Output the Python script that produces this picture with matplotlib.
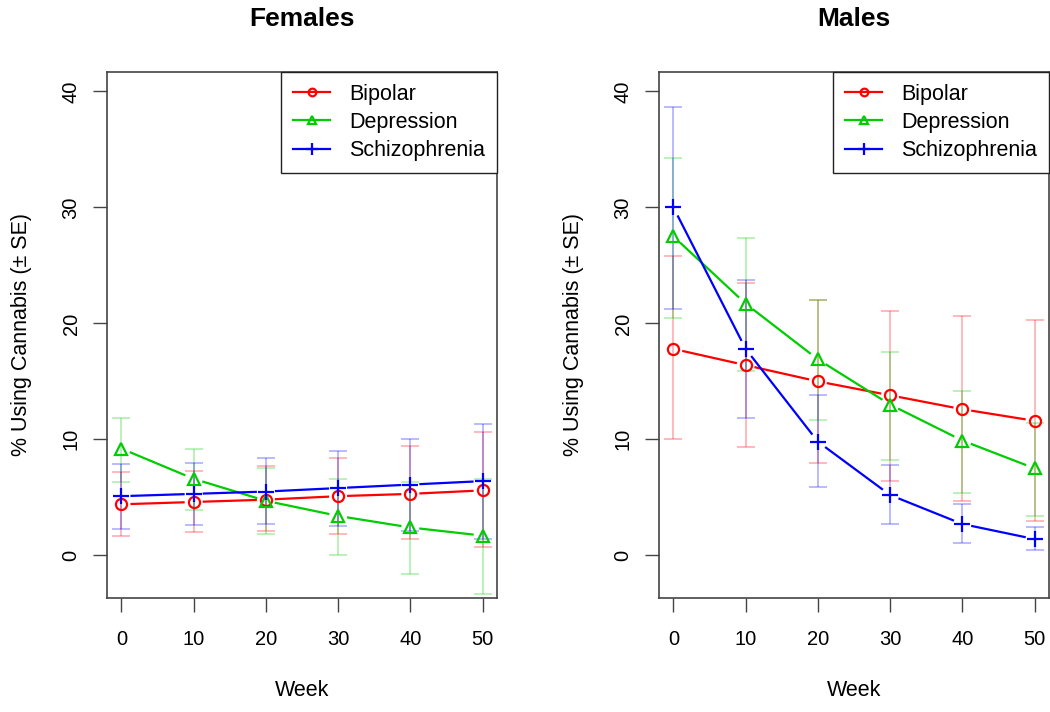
import numpy as np
import matplotlib
matplotlib.use("Agg")
import matplotlib.pyplot as plt
from matplotlib.lines import Line2D

plt.rcParams["font.family"] = ["Liberation Sans", "DejaVu Sans"]

weeks = [0, 10, 20, 30, 40, 50]
groups = ["Bipolar", "Depression", "Schizophrenia"]
colors = {"Bipolar": "#FF0000", "Depression": "#00CD00", "Schizophrenia": "#0000FF"}
markers = {"Bipolar": "o", "Depression": "^", "Schizophrenia": "+"}

# Females: mean % and error-bar ends
fem_mean = {
    "Bipolar": [4.4, 4.6, 4.8, 5.1, 5.3, 5.6],
    "Depression": [9.2, 6.6, 4.7, 3.4, 2.4, 1.7],
    "Schizophrenia": [5.1, 5.3, 5.5, 5.8, 6.1, 6.4],
}
fem_lo = {
    "Bipolar": [1.7, 2.0, 2.1, 1.8, 1.4, 0.7],
    "Depression": [6.3, 3.9, 1.8, 0.0, -1.6, -3.3],
    "Schizophrenia": [2.3, 2.6, 2.7, 2.5, 2.1, 1.4],
}
fem_hi = {
    "Bipolar": [7.2, 7.3, 7.7, 8.4, 9.4, 10.6],
    "Depression": [11.8, 9.2, 7.5, 6.6, 6.3, 6.6],
    "Schizophrenia": [7.9, 8.0, 8.4, 9.0, 10.0, 11.3],
}

# Males
male_mean = {
    "Bipolar": [17.8, 16.4, 15.0, 13.8, 12.6, 11.6],
    "Depression": [27.5, 21.7, 16.9, 13.0, 9.9, 7.5],
    "Schizophrenia": [30.0, 17.8, 9.8, 5.2, 2.7, 1.4],
}
male_lo = {
    "Bipolar": [10.0, 9.3, 8.0, 6.4, 4.7, 3.0],
    "Depression": [20.5, 15.9, 11.7, 8.2, 5.4, 3.4],
    "Schizophrenia": [21.2, 11.8, 5.9, 2.7, 1.1, 0.5],
}
male_hi = {
    "Bipolar": [25.8, 23.5, 22.0, 21.1, 20.6, 20.3],
    "Depression": [34.3, 27.4, 22.0, 17.5, 14.2, 11.4],
    "Schizophrenia": [38.7, 23.7, 13.8, 7.8, 4.4, 2.4],
}

fig = plt.figure(figsize=(10.5, 7.12), dpi=100)
W, H = 1050, 712


def gapped_line(ax, x, y, color, gap=9.0):
    # R type="b": segments stop short of the points
    pts = ax.transData.transform(np.column_stack([x, y]))
    inv = ax.transData.inverted()
    for p0, p1 in zip(pts[:-1], pts[1:]):
        d = p1 - p0
        L = np.hypot(*d)
        if L <= 2 * gap:
            continue
        u = d / L
        a = inv.transform(p0 + u * gap)
        b = inv.transform(p1 - u * gap)
        ax.plot([a[0], b[0]], [a[1], b[1]], color=color, lw=1.6,
                solid_capstyle="butt", zorder=3)


def panel(left_px, title, mean, lo, hi):
    ax = fig.add_axes([left_px / W, 1 - 598 / H, 390 / W, 526 / H])
    ax.set_xlim(-2, 52)
    ax.set_ylim(-3.68, 41.68)
    for g in groups:
        m = np.array(mean[g])
        yerr = [m - np.array(lo[g]), np.array(hi[g]) - m]
        ax.errorbar(weeks, m, yerr=yerr, fmt="none", ecolor=colors[g],
                    alpha=0.35, elinewidth=1.1, capsize=6.5, capthick=1.1, zorder=2)
    msize = {"o": 8, "^": 9, "+": 11}
    for g in groups:
        gapped_line(ax, weeks, mean[g], colors[g])
        ax.plot(weeks, mean[g], linestyle="none", marker=markers[g],
                ms=msize[markers[g]], mfc="none", mec=colors[g], mew=1.6, zorder=4)

    handles = [Line2D([], [], color=colors[g], lw=1.6, marker=markers[g],
                      ms=(8 if markers[g] == "+" else 5.5), mfc="none", mew=1.6)
               for g in groups]
    leg = ax.legend(handles, groups, loc="upper right", borderaxespad=0,
                    fancybox=False, framealpha=1, edgecolor="#222222",
                    fontsize=15.5, handlelength=1.7, handletextpad=0.9,
                    labelspacing=0.33, borderpad=0.55)
    leg.get_frame().set_linewidth(1.0)

    ax.set_xticks(weeks)
    ax.set_yticks([0, 10, 20, 30, 40])
    ax.set_yticklabels(["0", "10", "20", "30", "40"], rotation=90, va="center")
    ax.tick_params(axis="both", direction="out", length=10, width=1.0,
                   color="#444444", labelsize=14.5)
    ax.tick_params(axis="x", pad=13)
    ax.tick_params(axis="y", pad=9)
    for s in ax.spines.values():
        s.set_color("#444444")
        s.set_linewidth(1.2)
    ax.set_title(title, fontsize=19, fontweight="bold", pad=33)
    ax.set_xlabel("Week", fontsize=15.5, labelpad=22)
    ax.set_ylabel("% Using Cannabis (\u00b1 SE)", fontsize=15.5, labelpad=21)
    return ax


panel(107, "Females", fem_mean, fem_lo, fem_hi)
panel(659, "Males", male_mean, male_lo, male_hi)

fig.savefig("out.png", dpi=100, facecolor="white")
